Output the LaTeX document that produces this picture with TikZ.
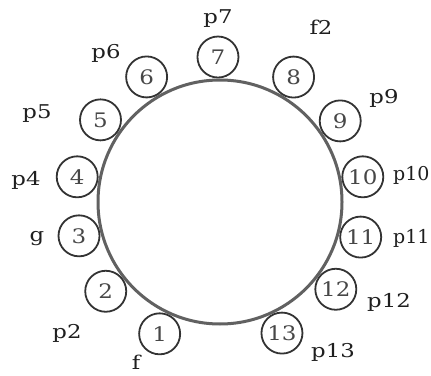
\documentclass[tikz,border=0pt]{standalone}
\usepackage{fontspec}
\setmainfont{DejaVu Serif}
\newfontfamily\lblfont[FakeStretch=1.2]{DejaVu Serif}
\newfontfamily\numfont[FakeStretch=1.15]{DejaVu Serif}
\begin{document}
\begin{tikzpicture}[x=1pt,y=1pt,
  bigring/.style={draw=black!62, line width=3pt},
  numcirc/.style={circle, draw=black!80, line width=1.8pt, minimum size=41pt, inner sep=0pt, font=\numfont\fontsize{20}{20}\selectfont, text=black!72},
  lbl/.style={inner sep=0pt, font=\lblfont\fontsize{19}{19}\selectfont, text=black!88},
  edgelbl/.style={inner sep=0pt, anchor=west, font=\fontsize{19}{19}\selectfont, text=black!88}]
\useasboundingbox (0,0) rectangle (431,375);
\coordinate (O) at (220,173);
\draw[bigring] (O) circle[radius=122];
\node[numcirc] (c1)  at ([shift={(-114.6:145)}]O) {1};
\node[numcirc] (c2)  at ([shift={(-142:145)}]O) {2};
\node[numcirc] (c3)  at ([shift={(-166.5:145)}]O) {3};
\node[numcirc] (c4)  at ([shift={(170:145)}]O) {4};
\node[numcirc] (c5)  at ([shift={(145.5:145)}]O) {5};
\node[numcirc] (c6)  at ([shift={(120.4:145)}]O) {6};
\node[numcirc] (c7)  at ([shift={(90.8:145)}]O) {7};
\node[numcirc] (c8)  at ([shift={(59.5:145)}]O) {8};
\node[numcirc] (c9)  at ([shift={(34:145)}]O) {9};
\node[numcirc] (c10) at ([shift={(10:145)}]O) {10};
\node[numcirc] (c11) at ([shift={(-14:145)}]O) {11};
\node[numcirc] (c12) at ([shift={(-37:145)}]O) {12};
\node[numcirc] (c13) at ([shift={(-64.7:145)}]O) {13};
\node[lbl] (l7)  at (218,356) {p7};
\node[lbl] (l8)  at (321,348) {f2};
\node[lbl] (l6)  at (106,322) {p6};
\node[lbl] (l5)  at (37,261) {p5};
\node[lbl] (l4)  at (26,195) {p4};
\node[lbl] (l3)  at (37,136) {g};
\node[lbl] (l2)  at (67,42) {p2};
\node[lbl] (l1)  at (136,13) {f};
\node[lbl] (l9)  at (384,277) {p9};
\node[edgelbl] (l10) at (393,200) {p10};
\node[edgelbl] (l11) at (393,137) {p11};
\node[lbl] (l12) at (389,73) {p12};
\node[lbl] (l13) at (333,23) {p13};
\end{tikzpicture}
\end{document}
